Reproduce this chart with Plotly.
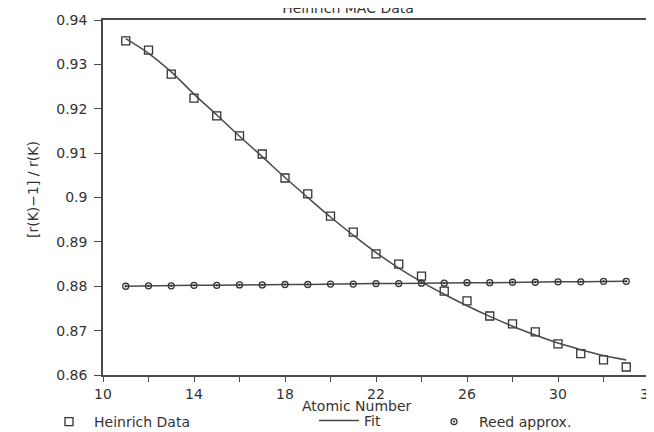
import plotly.graph_objects as go

atomic_number = list(range(11, 34))
heinrich = [0.9353, 0.9332, 0.9278, 0.9224, 0.9184, 0.9139, 0.9098, 0.9044, 0.9008,
            0.8958, 0.8922, 0.8873, 0.8850, 0.8823, 0.8789, 0.8767, 0.8733, 0.8715,
            0.8697, 0.8670, 0.8648, 0.8634, 0.8618]
fit = [0.9358, 0.9325, 0.9283, 0.9233, 0.9186, 0.9138, 0.9092, 0.9045, 0.9000,
       0.8956, 0.8915, 0.8876, 0.8841, 0.8810, 0.8782, 0.8756, 0.8732, 0.8710,
       0.8690, 0.8672, 0.8657, 0.8644, 0.8634]
reed = [0.8800, 0.8801, 0.8801, 0.8802, 0.8802, 0.8803, 0.8803, 0.8804, 0.8804,
        0.8805, 0.8805, 0.8806, 0.8806, 0.8807, 0.8807, 0.8808, 0.8808, 0.8809,
        0.8809, 0.8810, 0.8810, 0.8811, 0.8811]

y_tickvals = [0.86, 0.87, 0.88, 0.89, 0.90, 0.91, 0.92, 0.93, 0.94]
y_ticktext = ["0.86", "0.87", "0.88", "0.89", "0.9", "0.91", "0.92", "0.93", "0.94"]
x_tickvals = [10, 14, 18, 22, 26, 30, 34]

INK = "#333333"
LINE = "#4a4a4a"
FONT = "DejaVu Sans"
FS = 14

W, H = 654, 432
ML, MR, MT, MB = 95, 13, 12, 65
PW, PH = W - ML - MR, H - MT - MB


def px_x(px):
    return (px - ML) / PW


def px_y(py):
    return (H - MB - py) / PH


fig = go.Figure()
fig.add_trace(go.Scatter(
    x=atomic_number, y=heinrich, mode="markers", name="Heinrich Data",
    marker=dict(symbol="square-open", size=8, color=INK, line=dict(width=1.3, color=INK)),
    legend="legend"))
fig.add_trace(go.Scatter(
    x=atomic_number, y=fit, mode="lines", name="Fit",
    line=dict(color=LINE, width=1.5, shape="spline"), legend="legend2"))
fig.add_trace(go.Scatter(
    x=atomic_number, y=reed, mode="lines", showlegend=False,
    line=dict(color=LINE, width=1.5)))
fig.add_trace(go.Scatter(
    x=atomic_number, y=reed, mode="markers", name="Reed approx.",
    marker=dict(symbol="circle-open-dot", size=6, color=INK, line=dict(width=1.3, color=INK)),
    legend="legend3"))

legend_common = dict(orientation="h", yanchor="middle", xanchor="left",
                     xref="container", yref="container",
                     bgcolor="rgba(0,0,0,0)", font=dict(family=FONT, size=FS, color=INK),
                     itemwidth=40)

fig.update_layout(
    width=W, height=H,
    margin=dict(l=ML, r=MR, t=MT, b=MB, autoexpand=False),
    paper_bgcolor="white", plot_bgcolor="white",
    font=dict(family=FONT, size=FS, color=INK),
    title=dict(text="Heinrich MAC Data", x=340 / W, xanchor="center", xref="container",
               y=1.0, yref="container", yanchor="middle",
               font=dict(family=FONT, size=FS, color=INK)),
    legend=dict(x=36 / W, y=(H - 414) / H, **legend_common),
    legend2=dict(x=306 / W, y=(H - 413) / H, **legend_common),
    legend3=dict(x=421 / W, y=(H - 414) / H, **legend_common),
    xaxis=dict(range=[10, 34], tickvals=x_tickvals, ticks="outside", ticklen=5,
               tickcolor=LINE, tickwidth=1.3,
               minor=dict(dtick=2, ticks="outside", ticklen=5, tickcolor=LINE, tickwidth=1.3),
               showline=True, linecolor=LINE, linewidth=1.5, mirror=True,
               showgrid=False, zeroline=False),
    yaxis=dict(range=[0.86, 0.94], tickvals=y_tickvals, ticktext=y_ticktext,
               ticks="outside", ticklen=7, tickcolor=LINE, tickwidth=1.3,
               ticklabelstandoff=4,
               showline=True, linecolor=LINE, linewidth=1.5, mirror=True,
               showgrid=False, zeroline=False),
    annotations=[
        dict(text="Atomic Number", xref="paper", yref="paper",
             x=px_x(349), y=px_y(398), xanchor="center", yanchor="middle",
             showarrow=False, font=dict(family=FONT, size=FS, color=INK)),
        dict(text="[r(K)\u22121] / r(K)", xref="paper", yref="paper", textangle=-90,
             x=px_x(25), y=px_y(182), xanchor="center", yanchor="middle",
             showarrow=False, font=dict(family=FONT, size=FS, color=INK)),
    ],
)

fig.write_html("out.html")
